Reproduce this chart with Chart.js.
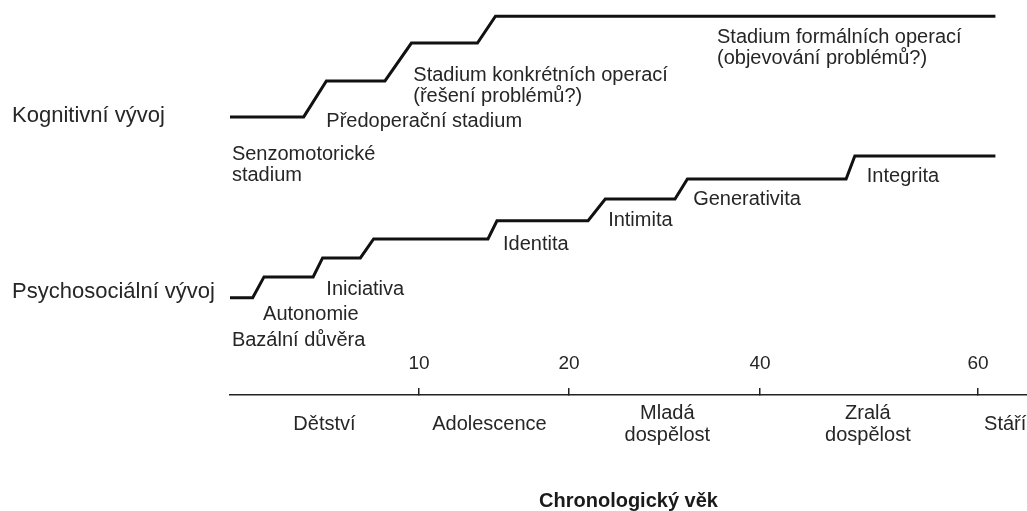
<!DOCTYPE html>
<html lang="cs">
<head>
<meta charset="utf-8">
<title>Kognitivní a psychosociální vývoj</title>
<script src="https://cdn.jsdelivr.net/npm/chart.js@4.4.1/dist/chart.umd.min.js"></script>
<style>
  html, body { margin: 0; padding: 0; background: #fff; }
  #wrap { width: 1027px; height: 511px; }
</style>
</head>
<body>
<div id="wrap"><canvas id="chartCanvas"></canvas></div>
<script>
// --- osa x: chronologický věk (nelineární měřítko jako v předloze) ---
var ageKnots  = [0, 10, 20, 40, 60, 64.5]          // roky
var knotShare = [0, 0.2371, 0.4253, 0.665, 0.9385, 1] // podíl šířky osy
var ageTicks  = [10, 20, 40, 60]

var periodNames = [['Dětství'], ['Adolescence'], ['Mladá', 'dospělost'], ['Zralá', 'dospělost'], ['Stáří']]
var periodAges  = [5, 14.7, 30.3, 49.9, 62.5]

// --- řádky vlevo ---
var rowNames  = ['Kognitivní vývoj', 'Psychosociální vývoj']
var rowLevels = [70.6, 26.2]

// --- schody: kognitivní vývoj (Piaget) ---
var cogAges   = [0, 3.9, 5.1, 8.2, 9.6, 13.9, 15.1, 61.6]
var cogLevels = [70.4, 70.4, 79.5, 79.5, 89.1, 89.1, 95.9, 95.9]

var cogStageNames  = [['Senzomotorické', 'stadium'], ['Předoperační stadium'],
                      ['Stadium konkrétních operací', '(řešení problémů?)'],
                      ['Stadium formálních operací', '(objevování problémů?)']]
var cogStageAges   = [0.1, 5.1, 9.7, 35.5]
var cogStageLevels = [60.8, 69.2, 81.0, 90.4]

// --- schody: psychosociální vývoj (Erikson) ---
var psyAges   = [0, 1.2, 1.8, 4.4, 4.9, 6.9, 7.6, 14.6, 15.2, 22.0, 23.8, 31.1, 32.4, 47.9, 48.7, 61.6]
var psyLevels = [24.6, 24.6, 29.9, 29.9, 34.7, 34.7, 39.5, 39.5, 44.1, 44.1, 49.6, 49.6, 54.7, 54.7, 60.5, 60.5]

var psyStageNames  = ['Bazální důvěra', 'Autonomie', 'Iniciativa', 'Identita', 'Intimita', 'Generativita', 'Integrita']
var psyStageAges   = [0.1, 1.75, 5.1, 15.6, 24.1, 33.0, 49.8]
var psyStageLevels = [13.7, 20.3, 26.8, 38.2, 44.1, 49.6, 55.2]

var lineColor = '#111'
var textColor = '#262626'
var fontFamily = '"Liberation Sans", Arial, Helvetica, sans-serif'

Chart.defaults.font.family = fontFamily
Chart.defaults.font.size = 20
Chart.defaults.color = textColor

// lomené (po částech lineární) měřítko věku
function ageToShare(v) {
  for (var i = 1; i < ageKnots.length; i++) {
    if (v <= ageKnots[i] || i === ageKnots.length - 1) {
      var a0 = ageKnots[i - 1], a1 = ageKnots[i]
      return knotShare[i - 1] + (v - a0) / (a1 - a0) * (knotShare[i] - knotShare[i - 1])
    }
  }
  return 0
}
function shareToAge(s) {
  for (var i = 1; i < knotShare.length; i++) {
    if (s <= knotShare[i] || i === knotShare.length - 1) {
      var s0 = knotShare[i - 1], s1 = knotShare[i]
      return ageKnots[i - 1] + (s - s0) / (s1 - s0) * (ageKnots[i] - ageKnots[i - 1])
    }
  }
  return 0
}

var LinearScale = Chart.registry.getScale('linear')
class PiecewiseScale extends LinearScale {
  getPixelForValue(value) {
    if (value === null || value === undefined) return NaN
    return this.getPixelForDecimal(ageToShare(value))
  }
  getValueForPixel(pixel) {
    return shareToAge(this.getDecimalForPixel(pixel))
  }
}
PiecewiseScale.id = 'piecewise'
PiecewiseScale.defaults = LinearScale.defaults
Chart.register(PiecewiseScale)

function toPoints(xs, ys) {
  return xs.map((x, i) => ({ x: x, y: ys[i] }))
}

function noPadding(scale) {
  scale.paddingLeft = 0
  scale.paddingRight = 0
  scale.paddingTop = 0
  scale.paddingBottom = 0
}

// popisky stadií přímo u schodů
var stageLabels = {
  id: 'stageLabels',
  afterDatasetsDraw(chart) {
    var ctx = chart.ctx
    var xs = chart.scales.x, ys = chart.scales.y
    ctx.save()
    ctx.font = '20px ' + fontFamily
    ctx.fillStyle = textColor
    ctx.textAlign = 'left'
    ctx.textBaseline = 'middle'
    function put(lines, age, level) {
      var x = xs.getPixelForValue(age)
      var y = ys.getPixelForValue(level)
      lines.forEach((t, i) => ctx.fillText(t, x, y + i * 21))
    }
    cogStageNames.forEach((n, i) => put(n, cogStageAges[i], cogStageLevels[i]))
    psyStageNames.forEach((n, i) => put([n], psyStageAges[i], psyStageLevels[i]))
    ctx.restore()
  }
}

var stepLine = {
  borderColor: lineColor,
  borderWidth: 3,
  pointRadius: 0,
  tension: 0,
  fill: false
}

const canvasChart = document.getElementById('chartCanvas')
var myChart = new Chart(canvasChart, {
  type: 'line',
  data: {
    datasets: [
      Object.assign({ label: 'Kognitivní vývoj', data: toPoints(cogAges, cogLevels) }, stepLine),
      Object.assign({ label: 'Psychosociální vývoj', data: toPoints(psyAges, psyLevels) }, stepLine)
    ]
  },
  options: {
    responsive: true,
    maintainAspectRatio: false,
    animation: false,
    layout: { padding: { left: 12, right: 0, top: 0, bottom: 0 } },
    plugins: { legend: { display: false }, tooltip: { enabled: false } },
    scales: {
      x: {
        type: 'piecewise',
        position: 'bottom',
        min: 0,
        max: ageKnots[ageKnots.length - 1],
        bounds: 'data',
        afterBuildTicks: s => { s.ticks = ageTicks.map(v => ({ value: v })) },
        afterFit: s => { s.height = 0; noPadding(s) },
        border: { display: true, color: '#222', width: 1.5 },
        grid: { display: true, drawOnChartArea: false, drawTicks: true, tickLength: -7, color: '#222', lineWidth: 1.5 },
        ticks: {
          autoSkip: false, maxRotation: 0, minRotation: 0,
          mirror: true,      // popisky nad osou
          padding: 20,
          font: { size: 19 },
          color: textColor,
          callback: v => String(v)
        }
      },
      x2: {
        type: 'piecewise',
        axis: 'x',
        position: 'bottom',
        min: 0,
        max: ageKnots[ageKnots.length - 1],
        bounds: 'data',
        afterBuildTicks: s => { s.ticks = periodAges.map(v => ({ value: v })) },
        afterFit: s => { s.height = 116; noPadding(s) },
        border: { display: false },
        grid: { display: false, drawTicks: false },
        ticks: {
          autoSkip: false, maxRotation: 0, minRotation: 0,
          padding: 18,
          crossAlign: 'center',
          font: { size: 20, lineHeight: 1.1 },
          color: textColor,
          callback: (v, i) => periodNames[i]
        },
        title: {
          display: true,
          text: 'Chronologický věk',
          font: { size: 20, weight: 'bold' },
          color: '#1a1a1a',
          padding: { top: 0, bottom: -2 }
        }
      },
      y: {
        type: 'linear',
        position: 'left',
        min: 0,
        max: 100,
        bounds: 'data',
        afterBuildTicks: s => { s.ticks = rowLevels.map(v => ({ value: v })) },
        afterFit: s => { s.width = 218; noPadding(s) },
        border: { display: false },
        grid: { display: false, drawTicks: false },
        ticks: {
          autoSkip: false,
          crossAlign: 'far',
          font: { size: 22 },
          color: textColor,
          callback: (v, i) => rowNames[i]
        }
      }
    }
  },
  plugins: [stageLabels]
})
</script>
</body>
</html>
